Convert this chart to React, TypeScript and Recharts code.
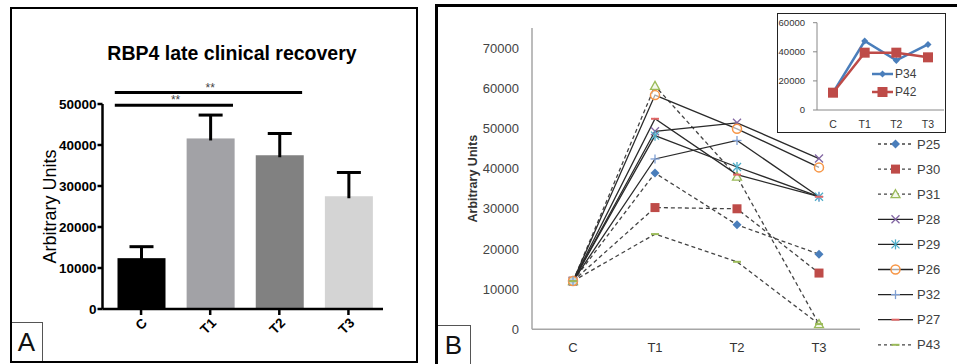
import React from 'react';
import { BarChart, Bar, XAxis, YAxis, ReferenceLine, LineChart, Line, Legend, Cell } from 'recharts';

// ---------- Panel A data ----------
const barCategories = ['C', 'T1', 'T2', 'T3'];
const barMeans = [12400, 41600, 37500, 27500];
const barErrors = [2800, 5700, 5300, 5800];
const barColors = ['#000000', '#a2a2a6', '#818181', '#d4d4d4'];
const barTicks = [0, 10000, 20000, 30000, 40000, 50000];
const sigFrom = ['C', 'C'];
const sigTo = ['T2', 'T1'];
const sigLevels = [52800, 49700];
const sigLabels = ['**', '**'];

// ---------- Panel B data ----------
const timepoints = ['C', 'T1', 'T2', 'T3'];
const p25 = [12000, 38900, 26000, 18700];
const p30 = [12000, 30300, 30000, 14000];
const p31 = [12000, 60600, 38000, 1300];
const p28 = [12000, 49300, 51400, 42500];
const p29 = [12000, 48200, 40400, 33000];
const p26 = [12000, 58300, 49900, 40300];
const p32 = [12000, 42400, 47000, 33000];
const p27 = [12000, 52400, 38500, 33000];
const p43 = [12000, 23700, 16800, 1300];
const lineTicks = [0, 10000, 20000, 30000, 40000, 50000, 60000, 70000];

// ---------- Inset data ----------
const p34 = [12000, 47400, 34100, 45100];
const p42 = [11900, 39400, 39400, 36200];
const insetTicks = [0, 20000, 40000, 60000];

const barData = barCategories.map((c, i) => ({ cat: c, mean: barMeans[i], err: barErrors[i] }));

const mainSeries = [
  { name: 'P25', values: p25, dashed: true, marker: 'diamond', color: '#4a7ebb' },
  { name: 'P30', values: p30, dashed: true, marker: 'square', color: '#be4b48' },
  { name: 'P31', values: p31, dashed: true, marker: 'triangle', color: '#9bbb59' },
  { name: 'P28', values: p28, dashed: false, marker: 'x', color: '#8064a2' },
  { name: 'P29', values: p29, dashed: false, marker: 'asterisk', color: '#4bacc6' },
  { name: 'P26', values: p26, dashed: false, marker: 'circle', color: '#f79646' },
  { name: 'P32', values: p32, dashed: false, marker: 'plus', color: '#7f9fd3' },
  { name: 'P27', values: p27, dashed: false, marker: 'dash', color: '#e06666' },
  { name: 'P43', values: p43, dashed: true, marker: 'dash', color: '#9bbb59' },
];
const lineData = timepoints.map((t, i) => {
  const row: any = { t };
  mainSeries.forEach((s) => { row[s.name] = s.values[i]; });
  return row;
});

const insetSeries = [
  { name: 'P34', values: p34, marker: 'smalldiamond', color: '#4a7ebb' },
  { name: 'P42', values: p42, marker: 'bigsquare', color: '#be4b48' },
];
const insetData = timepoints.map((t, i) => {
  const row: any = { t };
  insetSeries.forEach((s) => { row[s.name] = s.values[i]; });
  return row;
});

const SANS = '"Liberation Sans", Arial, sans-serif';

function Marker({ kind, cx, cy, color }: any) {
  if (cx == null || cy == null) return <g />;
  switch (kind) {
    case 'diamond':
      return <polygon points={`${cx},${cy - 4.5} ${cx + 4.5},${cy} ${cx},${cy + 4.5} ${cx - 4.5},${cy}`} fill={color} />;
    case 'smalldiamond':
      return <polygon points={`${cx},${cy - 3.5} ${cx + 3.5},${cy} ${cx},${cy + 3.5} ${cx - 3.5},${cy}`} fill={color} />;
    case 'square':
      return <rect x={cx - 4.5} y={cy - 4.5} width={9} height={9} fill={color} />;
    case 'bigsquare':
      return <rect x={cx - 5} y={cy - 5} width={10} height={10} fill={color} />;
    case 'triangle':
      return <polygon points={`${cx},${cy - 4.5} ${cx + 4.5},${cy + 3.5} ${cx - 4.5},${cy + 3.5}`} fill="#f4f8ec" stroke={color} strokeWidth={1.3} />;
    case 'x':
      return (
        <g stroke={color} strokeWidth={1.3}>
          <line x1={cx - 4} y1={cy - 4} x2={cx + 4} y2={cy + 4} />
          <line x1={cx - 4} y1={cy + 4} x2={cx + 4} y2={cy - 4} />
        </g>
      );
    case 'asterisk':
      return (
        <g stroke={color} strokeWidth={1.3}>
          <line x1={cx - 4} y1={cy - 4} x2={cx + 4} y2={cy + 4} />
          <line x1={cx - 4} y1={cy + 4} x2={cx + 4} y2={cy - 4} />
          <line x1={cx} y1={cy - 5} x2={cx} y2={cy + 5} />
        </g>
      );
    case 'circle':
      return <circle cx={cx} cy={cy} r={4.5} fill="#fff" fillOpacity={0.6} stroke={color} strokeWidth={1.5} />;
    case 'plus':
      return (
        <g stroke={color} strokeWidth={1.3}>
          <line x1={cx - 4.5} y1={cy} x2={cx + 4.5} y2={cy} />
          <line x1={cx} y1={cy - 4.5} x2={cx} y2={cy + 4.5} />
        </g>
      );
    case 'dash':
      return <line x1={cx - 4} y1={cy} x2={cx + 4} y2={cy} stroke={color} strokeWidth={2} />;
    default:
      return <g />;
  }
}

const makeDot = (kind: string, color: string, name: string) => (props: any) => (
  <Marker key={`${name}-${props.index}`} kind={kind} cx={props.cx} cy={props.cy} color={color} />
);

const BarWithError = (props: any) => {
  const { x, y, width, height, fill, payload } = props;
  const pxPerUnit = height / payload.mean;
  const top = y - payload.err * pxPerUnit;
  const cx = x + width / 2;
  return (
    <g>
      <rect x={x} y={y} width={width} height={height} fill={fill} />
      <line x1={cx} x2={cx} y1={y + 2} y2={top} stroke="#000" strokeWidth={3} />
      <line x1={cx - 12} x2={cx + 12} y1={top} y2={top} stroke="#000" strokeWidth={3} />
    </g>
  );
};

// significance bracket: spans from slightly left of the first category's bar to the right edge of the last one
const makeSigShape = (fromIdx: number, toIdx: number) => (p: any) => {
  const { x1, y1, x2 } = p;
  const step = toIdx > fromIdx ? (x2 - x1) / (toIdx - fromIdx) : 69;
  return <line x1={x1 - 0.38 * step} x2={x2 + 0.33 * step} y1={y1} y2={y1} stroke="#000" strokeWidth={3} />;
};

const MainLegend = () => (
  <svg width={84} height={232} style={{ display: 'block', overflow: 'visible' }}>
    {mainSeries.map((s, i) => {
      const y = 12 + i * 25.1;
      return (
        <g key={s.name}>
          <line x1={3} x2={38} y1={y} y2={y} stroke={s.dashed ? '#444' : '#222'} strokeWidth={1.3} strokeDasharray={s.dashed ? '3 3' : undefined} />
          <Marker kind={s.marker} cx={20.5} cy={y} color={s.color} />
          <text x={42} y={y} dy="0.35em" fontSize={13} fill="#404040" fontFamily={SANS}>{s.name}</text>
        </g>
      );
    })}
  </svg>
);

const InsetLegend = () => (
  <svg width={50} height={36} style={{ display: 'block', overflow: 'visible' }}>
    {insetSeries.map((s, i) => {
      const y = 9 + i * 18;
      return (
        <g key={s.name}>
          <line x1={0} x2={21} y1={y} y2={y} stroke={s.color} strokeWidth={2.5} />
          <Marker kind={s.marker} cx={10.5} cy={y} color={s.color} />
          <text x={23} y={y} dy="0.35em" fontSize={12} fill="#404040" fontFamily={SANS}>{s.name}</text>
        </g>
      );
    })}
  </svg>
);

export default function App() {
  return (
    <div style={{ position: 'absolute', left: 0, top: 0, width: 957, height: 364, background: '#fff', overflow: 'hidden', fontFamily: SANS }}>
      {/* Panel A */}
      <div style={{ position: 'absolute', left: 0, top: 0 }}>
        <BarChart width={420} height={364} data={barData} margin={{ top: 104, right: 37, bottom: 15, left: 42.5 }}>
          <XAxis
            dataKey="cat"
            padding={{ left: 4, right: 0 }}
            axisLine={{ stroke: '#000', strokeWidth: 2.5 }}
            tickLine={{ stroke: '#000', strokeWidth: 2.5 }}
            tickSize={6}
            tickMargin={2}
            height={40}
            angle={-45}
            textAnchor="end"
            tick={{ fill: '#000', fontSize: 13.5, fontWeight: 'bold', fontFamily: SANS }}
            interval={0}
          />
          <YAxis
            domain={[0, 50000]}
            ticks={barTicks}
            width={60}
            axisLine={{ stroke: '#000', strokeWidth: 2.5 }}
            tickLine={{ stroke: '#000', strokeWidth: 2.5 }}
            tickSize={5}
            tickMargin={1}
            tick={{ fill: '#000', fontSize: 13.5, fontWeight: 'bold', fontFamily: SANS }}
            label={{ value: 'Arbitrary Units', angle: -90, position: 'center', dx: -23, fill: '#000', fontSize: 18, fontFamily: SANS }}
            interval={0}
          />
          <Bar dataKey="mean" barSize={48} shape={BarWithError} isAnimationActive={false}>
            {barData.map((d, i) => <Cell key={d.cat} fill={barColors[i]} />)}
          </Bar>
          {sigFrom.map((f, i) => (
            <ReferenceLine
              key={`sig-${i}`}
              segment={[{ x: f, y: sigLevels[i] }, { x: sigTo[i], y: sigLevels[i] }]}
              stroke="#000"
              strokeWidth={3}
              ifOverflow="visible"
              shape={makeSigShape(barCategories.indexOf(f), barCategories.indexOf(sigTo[i]))}
              label={{ value: sigLabels[i], position: 'top', offset: 1, fill: '#444', fontSize: 12, fontFamily: SANS }}
            />
          ))}
        </BarChart>
      </div>
      <div style={{ position: 'absolute', left: 232, top: 53, transform: 'translate(-50%, -50%)', whiteSpace: 'nowrap', fontSize: 19.5, fontWeight: 'bold', color: '#000', fontFamily: SANS }}>
        RBP4 late clinical recovery
      </div>

      {/* Panel B main */}
      <div style={{ position: 'absolute', left: 437, top: 0 }}>
        <LineChart width={520} height={364} data={lineData} margin={{ top: 28, right: 97, bottom: 4.7, left: 35 }}>
          <XAxis
            dataKey="t"
            padding={{ left: 41, right: 41 }}
            axisLine={{ stroke: '#a6a6a6', strokeWidth: 1.5 }}
            tickLine={false}
            tickSize={0}
            tickMargin={13}
            height={30}
            tick={{ fill: '#333', fontSize: 13, fontFamily: SANS }}
            interval={0}
          />
          <YAxis
            domain={[0, 75000]}
            ticks={lineTicks}
            width={60}
            axisLine={{ stroke: '#a6a6a6', strokeWidth: 1.5 }}
            tickLine={false}
            tickSize={0}
            tickMargin={13}
            tick={{ fill: '#444', fontSize: 13, fontFamily: SANS }}
            label={{ value: 'Arbitrary Units', angle: -90, position: 'center', dx: -29, fill: '#333', fontSize: 12.5, fontWeight: 'bold', fontFamily: SANS }}
            interval={0}
          />
          {mainSeries.map((s) => (
            <Line
              key={s.name}
              dataKey={s.name}
              stroke={s.dashed ? '#444' : '#2a2a2a'}
              strokeWidth={1.3}
              strokeDasharray={s.dashed ? '4 3' : undefined}
              dot={makeDot(s.marker, s.color, s.name)}
              activeDot={false}
              isAnimationActive={false}
            />
          ))}
          <Legend layout="vertical" align="center" verticalAlign="middle" content={() => <MainLegend />} wrapperStyle={{ left: 438, top: 132, width: 84, height: 232 }} />
        </LineChart>
      </div>

      {/* Inset */}
      <div style={{ position: 'absolute', left: 777, top: 13, width: 169, height: 120, background: '#fff' }}>
        <LineChart width={169} height={120} data={insetData} margin={{ top: 9.7, right: 2, bottom: 3, left: 10 }}>
          <XAxis
            dataKey="t"
            padding={{ left: 16, right: 16 }}
            axisLine={{ stroke: '#888', strokeWidth: 1 }}
            tickLine={false}
            tickSize={0}
            tickMargin={11}
            height={20}
            tick={{ fill: '#333', fontSize: 10.5, fontFamily: SANS }}
            interval={0}
          />
          <YAxis
            domain={[0, 60000]}
            ticks={insetTicks}
            width={30}
            axisLine={{ stroke: '#888', strokeWidth: 1 }}
            tickLine={{ stroke: '#888' }}
            tickSize={4}
            tickMargin={8}
            tick={{ fill: '#333', fontSize: 9.5, fontFamily: SANS }}
            interval={0}
          />
          {insetSeries.map((s) => (
            <Line
              key={s.name}
              dataKey={s.name}
              stroke={s.color}
              strokeWidth={2.5}
              dot={makeDot(s.marker, s.color, s.name)}
              activeDot={false}
              isAnimationActive={false}
            />
          ))}
          <Legend layout="vertical" align="center" verticalAlign="middle" content={() => <InsetLegend />} wrapperStyle={{ left: 95, top: 52, width: 50, height: 36 }} />
        </LineChart>
      </div>
      <div style={{ position: 'absolute', left: 777, top: 13, width: 169, height: 120, border: '1.5px solid #222', boxSizing: 'border-box', pointerEvents: 'none' }} />

      {/* Panel frames and letter boxes */}
      <div style={{ position: 'absolute', left: 10, top: 322, width: 33, height: 41, border: '1px solid #555', boxSizing: 'border-box', fontSize: 26, lineHeight: '39px', textAlign: 'center', color: '#111', fontFamily: SANS }}>A</div>
      <div style={{ position: 'absolute', left: 436, top: 325, width: 35, height: 45, border: '1px solid #555', boxSizing: 'border-box', fontSize: 26, lineHeight: '39px', textAlign: 'center', color: '#111', fontFamily: SANS }}>B</div>
      <div style={{ position: 'absolute', left: 10, top: 7, width: 408, height: 356, border: '2px solid #000', boxSizing: 'border-box', pointerEvents: 'none' }} />
      <div style={{ position: 'absolute', left: 435, top: 4, width: 600, height: 400, border: '3px solid #000', boxSizing: 'border-box', pointerEvents: 'none' }} />
    </div>
  );
}
